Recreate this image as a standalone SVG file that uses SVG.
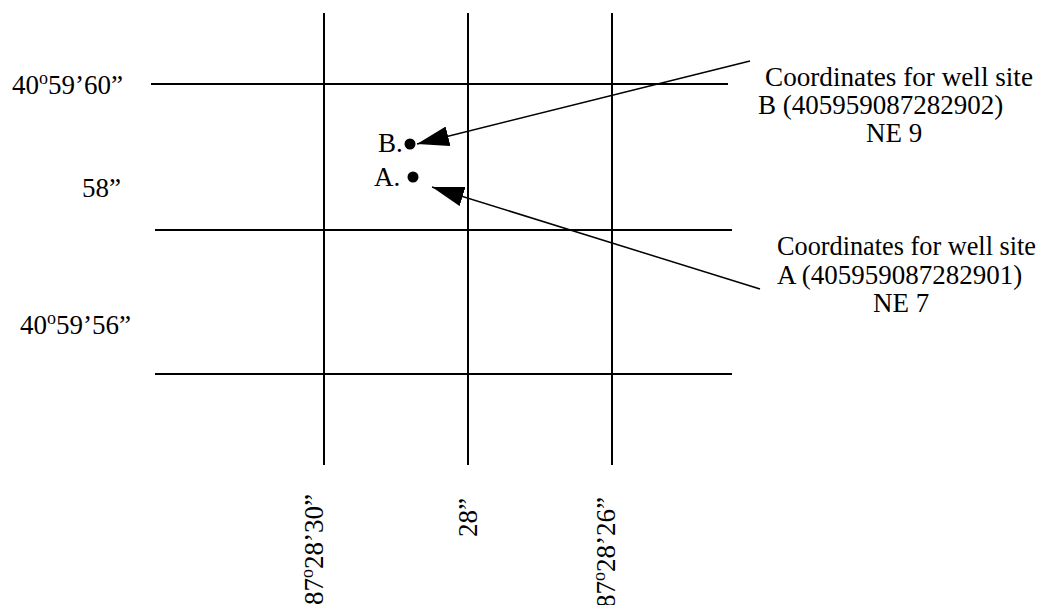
<svg xmlns="http://www.w3.org/2000/svg" width="1039" height="605" viewBox="0 0 1039 605">
<style>
.t{font-family:"Liberation Serif","Times New Roman",serif;font-size:27px;fill:#000}
.sup{font-size:18px}
.g{stroke:#000;stroke-width:2;fill:none}
.c{stroke:#000;stroke-width:1.5;fill:none}
</style>
<defs>
<marker id="ah" markerUnits="userSpaceOnUse" markerWidth="32" markerHeight="20" viewBox="0 0 32 20" refX="32" refY="10" orient="auto">
<path d="M0,0 L32,10 L0,20 Z" fill="#000"/>
</marker>
</defs>
<rect width="1039" height="605" fill="#fff"/>
<g id="grid">
<line class="g" x1="151" y1="84" x2="728" y2="84"/>
<line class="g" x1="155" y1="230" x2="732" y2="230"/>
<line class="g" x1="155" y1="374" x2="732" y2="374"/>
<line class="g" x1="324" y1="13" x2="324" y2="465"/>
<line class="g" x1="468" y1="13" x2="468" y2="465"/>
<line class="g" x1="612" y1="13" x2="612" y2="465"/>
</g>
<g id="lat-labels">
<text class="t" x="12" y="94">40<tspan class="sup" dy="-10">o</tspan><tspan dy="10">59’60”</tspan></text>
<text class="t" x="82" y="197">58”</text>
<text class="t" x="20" y="334">40<tspan class="sup" dy="-10">o</tspan><tspan dy="10">59’56”</tspan></text>
</g>
<g id="lon-labels">
<text class="t" transform="translate(323,605) rotate(-90)">87<tspan class="sup" dy="-10">o</tspan><tspan dy="10">28’30”</tspan></text>
<text class="t" transform="translate(477,537) rotate(-90)">28”</text>
<text class="t" transform="translate(615,608) rotate(-90)">87<tspan class="sup" dy="-10">o</tspan><tspan dy="10">28’26”</tspan></text>
</g>
<g id="siteB">
<circle cx="410" cy="144" r="5.5" fill="#000"/>
<text class="t" x="378" y="152">B.</text>
</g>
<g id="siteA">
<circle cx="413" cy="177" r="5.5" fill="#000"/>
<text class="t" x="374" y="186">A.</text>
</g>
<g id="labelB">
<text class="t" x="765" y="86" textLength="268" lengthAdjust="spacingAndGlyphs">Coordinates for well site</text>
<text class="t" x="758" y="114">B (405959087282902)</text>
<text class="t" x="866" y="142">NE 9</text>
</g>
<g id="labelA">
<text class="t" x="777" y="255" textLength="259" lengthAdjust="spacingAndGlyphs">Coordinates for well site</text>
<text class="t" x="777" y="284">A (405959087282901)</text>
<text class="t" x="873" y="312">NE 7</text>
</g>
<g id="connectors">
<line class="c" x1="750" y1="61" x2="417" y2="144" marker-end="url(#ah)"/>
<line class="c" x1="760" y1="289" x2="432" y2="187" marker-end="url(#ah)"/>
</g>
</svg>
